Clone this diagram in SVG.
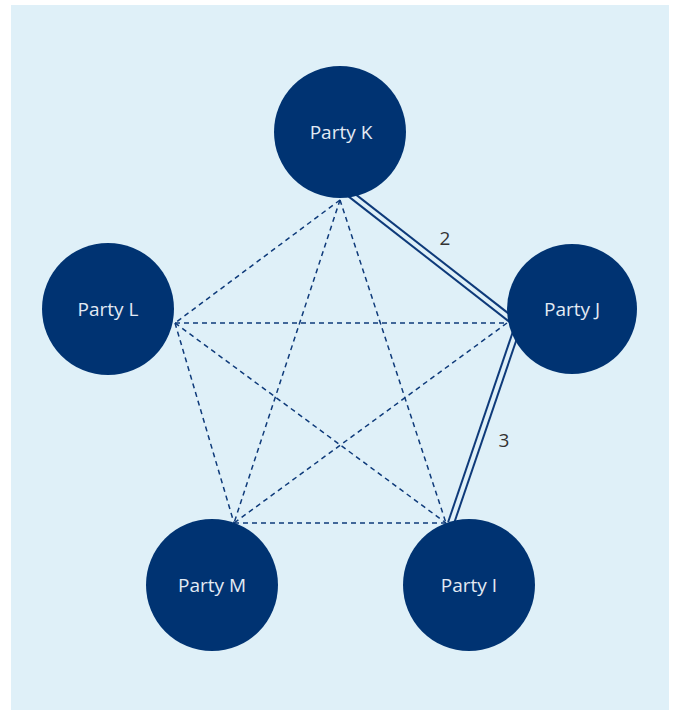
<svg xmlns="http://www.w3.org/2000/svg" width="673" height="710" viewBox="0 0 673 710">
<style>
.bg{fill:#dff0f8}
.node circle{fill:#003372}
.node text{font-family:"Open Sans","Liberation Sans",sans-serif;font-size:19px;fill:#e3eaf4;text-anchor:middle}
.dash{stroke:#0e3a7a;stroke-width:1.5;stroke-dasharray:5 4;fill:none}
.dbl-out{stroke:#0e3a7a;stroke-width:8;fill:none}
.dbl-in{stroke:#dff0f8;stroke-width:4;fill:none}
.lbl{font-family:"Open Sans","Liberation Sans",sans-serif;font-size:19px;fill:#333;text-anchor:middle}
</style>
<rect class="bg" x="11" y="5" width="658" height="705"/>
<g id="connectors">
<line class="dash" x1="340" y1="200" x2="175" y2="323"/>
<line class="dash" x1="340" y1="200" x2="234" y2="523"/>
<line class="dash" x1="340" y1="200" x2="446" y2="523"/>
<line class="dash" x1="175" y1="323" x2="507" y2="323"/>
<line class="dash" x1="175" y1="323" x2="234" y2="523"/>
<line class="dash" x1="175" y1="323" x2="446" y2="523"/>
<line class="dash" x1="507" y1="323" x2="234" y2="523"/>
<line class="dash" x1="234" y1="523" x2="446" y2="523"/>
<line class="dbl-out" x1="340" y1="186" x2="512" y2="320"/>
<line class="dbl-in" x1="340" y1="186" x2="512" y2="320"/>
<line class="dbl-out" x1="519" y1="323" x2="451" y2="523"/>
<line class="dbl-in" x1="519" y1="323" x2="451" y2="523"/>
<text class="lbl" x="445" y="245">2</text>
<text class="lbl" x="504" y="447">3</text>
</g>
<g id="party-k" class="node"><circle cx="340" cy="132" r="66"/><text x="341" y="139">Party K</text></g>
<g id="party-j" class="node"><circle cx="572" cy="309" r="65"/><text x="572" y="316">Party J</text></g>
<g id="party-l" class="node"><circle cx="108" cy="309" r="66"/><text x="108" y="316">Party L</text></g>
<g id="party-m" class="node"><circle cx="212" cy="585" r="66"/><text x="212" y="592">Party M</text></g>
<g id="party-i" class="node"><circle cx="469" cy="585" r="66"/><text x="469" y="592">Party I</text></g>
</svg>
